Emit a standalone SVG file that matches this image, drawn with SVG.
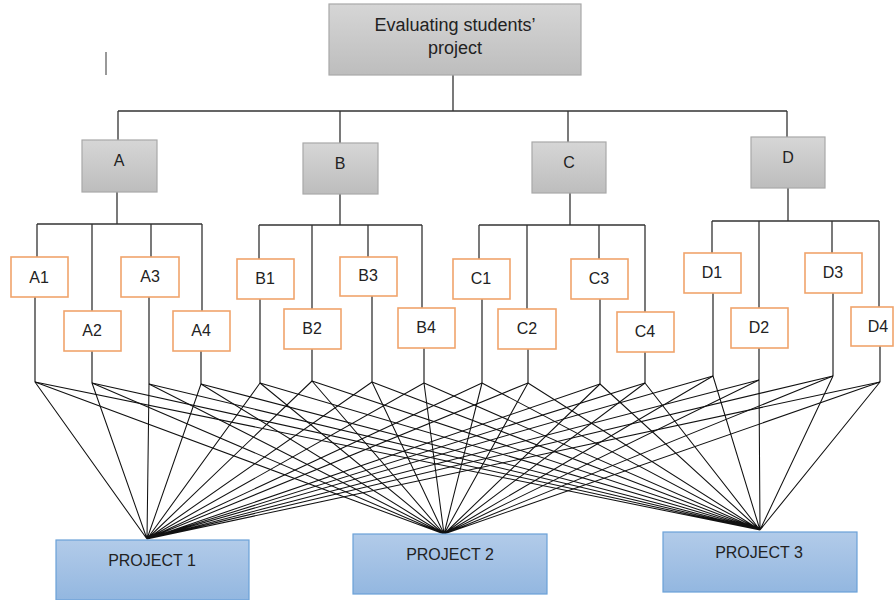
<svg xmlns="http://www.w3.org/2000/svg" width="895" height="600" viewBox="0 0 895 600">
<defs>
<linearGradient id="grey" x1="0" y1="0" x2="0" y2="1"><stop offset="0" stop-color="#d6d6d6"/><stop offset="1" stop-color="#bdbdbd"/></linearGradient>
<linearGradient id="blue" x1="0" y1="0" x2="0" y2="1"><stop offset="0" stop-color="#b2cbe9"/><stop offset="1" stop-color="#93b7e0"/></linearGradient>
</defs>
<style>
.g{fill:url(#grey);stroke:#a8a8a8;stroke-width:1.2}
.o{fill:#fff;stroke:#f0a46c;stroke-width:1.6}
.p{fill:url(#blue);stroke:#6aa1d8;stroke-width:1.2}
.t{font-family:"Liberation Sans",Arial,sans-serif;fill:#222;text-anchor:middle}
.tree{stroke:#333;stroke-width:1.3;fill:none}
.mesh{stroke:#111;stroke-width:1.05;fill:none}
</style>
<line x1="106" y1="52" x2="106" y2="75" stroke="#555" stroke-width="1.2"/>
<g id="connectors">
<path class="tree" d="M453 75V111M118 111H787M118 111V140M340 111V143M568 111V142M787 111V137"/>
<path class="tree" d="M117 192V224M37 224H202M37 224V257M92 224V311M151 224V257M202 224V311M35 297V382M92 351V383M149 297V384M201 351V384"/>
<path class="tree" d="M340 194V225M259 225H422M259 225V259M312 225V309M368 225V257M422 225V308M260 299V383M312 349V381M372 296V382M424 348V383"/>
<path class="tree" d="M570 193V225M479 225H645M479 225V259M527 225V309M599 225V259M645 225V312M482 299V383M528 349V383M600 299V384M645 352V383"/>
<path class="tree" d="M788 188V221M712 221H879M712 221V253M759 221V308M832 221V253M879 221V307M713 293V376M759 348V380M833 293V376M880 346V382"/>
<g class="mesh">
<path d="M35 382L147 539M92 383L147 539M149 384L147 539M201 384L147 539M260 383L147 539M312 381L147 539M372 382L147 539M424 383L147 539M482 383L147 539M528 383L147 539M600 384L147 539M645 383L147 539M713 376L147 539M759 380L147 539M833 376L147 539M880 382L147 539"/>
<path d="M35 382L444 534M92 383L444 534M149 384L444 534M201 384L444 534M260 383L444 534M312 381L444 534M372 382L444 534M424 383L444 534M482 383L444 534M528 383L444 534M600 384L444 534M645 383L444 534M713 376L444 534M759 380L444 534M833 376L444 534M880 382L444 534"/>
<path d="M35 382L760 530M92 383L760 530M149 384L760 530M201 384L760 530M260 383L760 530M312 381L760 530M372 382L760 530M424 383L760 530M482 383L760 530M528 383L760 530M600 384L760 530M645 383L760 530M713 376L760 530M759 380L760 530M833 376L760 530M880 382L760 530"/>
</g>
</g>
<g id="root"><rect class="g" x="329" y="4" width="252" height="71"/><text class="t" font-size="18" x="455" y="31">Evaluating students’</text><text class="t" font-size="18" x="455" y="54">project</text></g>
<g id="A"><rect class="g" x="82" y="140" width="75" height="52"/><text class="t" font-size="16" x="119" y="166">A</text></g>
<g id="B"><rect class="g" x="303" y="143" width="75" height="51"/><text class="t" font-size="16" x="340" y="169">B</text></g>
<g id="C"><rect class="g" x="532" y="142" width="74" height="51"/><text class="t" font-size="16" x="569" y="168">C</text></g>
<g id="D"><rect class="g" x="751" y="137" width="74" height="51"/><text class="t" font-size="16" x="788" y="163">D</text></g>
<g id="A1"><rect class="o" x="11" y="257" width="57" height="40"/><text class="t" font-size="16" x="39" y="283">A1</text></g>
<g id="A2"><rect class="o" x="64" y="311" width="57" height="40"/><text class="t" font-size="16" x="92" y="336">A2</text></g>
<g id="A3"><rect class="o" x="121" y="257" width="58" height="40"/><text class="t" font-size="16" x="150" y="282">A3</text></g>
<g id="A4"><rect class="o" x="173" y="311" width="57" height="40"/><text class="t" font-size="16" x="201" y="336">A4</text></g>
<g id="B1"><rect class="o" x="237" y="259" width="57" height="40"/><text class="t" font-size="16" x="265" y="284">B1</text></g>
<g id="B2"><rect class="o" x="284" y="309" width="57" height="40"/><text class="t" font-size="16" x="312" y="334">B2</text></g>
<g id="B3"><rect class="o" x="340" y="257" width="57" height="39"/><text class="t" font-size="16" x="368" y="281">B3</text></g>
<g id="B4"><rect class="o" x="398" y="308" width="57" height="40"/><text class="t" font-size="16" x="426" y="333">B4</text></g>
<g id="C1"><rect class="o" x="453" y="259" width="57" height="40"/><text class="t" font-size="16" x="481" y="284">C1</text></g>
<g id="C2"><rect class="o" x="498" y="309" width="58" height="40"/><text class="t" font-size="16" x="527" y="334">C2</text></g>
<g id="C3"><rect class="o" x="571" y="259" width="57" height="40"/><text class="t" font-size="16" x="599" y="284">C3</text></g>
<g id="C4"><rect class="o" x="617" y="312" width="57" height="40"/><text class="t" font-size="16" x="645" y="337">C4</text></g>
<g id="D1"><rect class="o" x="684" y="253" width="57" height="40"/><text class="t" font-size="16" x="712" y="278">D1</text></g>
<g id="D2"><rect class="o" x="731" y="308" width="57" height="40"/><text class="t" font-size="16" x="759" y="333">D2</text></g>
<g id="D3"><rect class="o" x="805" y="253" width="57" height="40"/><text class="t" font-size="16" x="833" y="278">D3</text></g>
<g id="D4"><rect class="o" x="851" y="307" width="42" height="39"/><text class="t" font-size="16" x="878" y="332">D4</text></g>
<g id="P1"><rect class="p" x="56" y="540" width="193" height="60"/><text class="t" font-size="16" x="152" y="566">PROJECT 1</text></g>
<g id="P2"><rect class="p" x="353" y="534" width="194" height="60"/><text class="t" font-size="16" x="450" y="560">PROJECT 2</text></g>
<g id="P3"><rect class="p" x="663" y="532" width="194" height="60"/><text class="t" font-size="16" x="759" y="558">PROJECT 3</text></g>
</svg>
